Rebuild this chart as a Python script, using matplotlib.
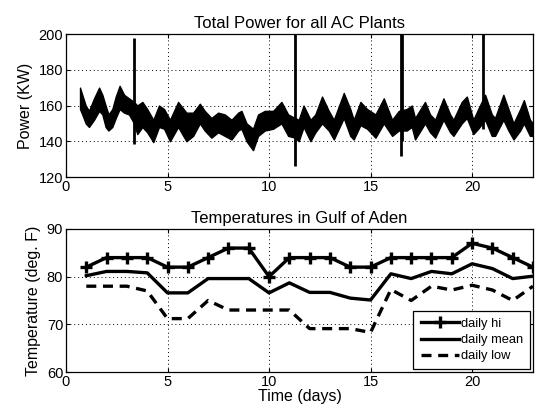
import matplotlib
matplotlib.use("Agg")
import matplotlib.pyplot as plt

plt.rcParams['font.family'] = ['Liberation Sans', 'DejaVu Sans']

# ---- Top panel: total power envelope ----
power_t = [0.69, 0.80, 0.97, 1.13, 1.38, 1.63, 1.79, 1.95, 2.09, 2.28, 2.45, 2.64, 2.86,
           3.10, 3.35, 3.51, 3.76, 4.00, 4.30, 4.58, 4.83, 5.12, 5.52, 5.93, 6.26, 6.59,
           6.83, 7.16, 7.49, 7.82, 8.15, 8.48, 8.64, 8.89, 9.21, 9.46, 9.79, 10.2, 10.61,
           10.94, 11.28, 11.46, 11.70, 12.04, 12.28, 12.61, 12.94, 13.19, 13.68, 14.00,
           14.17, 14.50, 14.83, 15.24, 15.65, 16.06, 16.39, 16.78, 17.03, 17.19, 17.68,
           17.93, 18.18, 18.59, 18.92, 19.08, 19.49, 19.74, 20.06, 20.30, 20.64, 20.97,
           21.13, 21.54, 21.79, 22.04, 22.37, 22.55, 22.85, 23.00]
power_hi = [170, 166, 160, 157, 164, 170, 166, 160, 155, 158, 165, 171, 166,
            164, 162, 160, 162, 158, 152, 160, 158, 152, 162, 156, 156, 161,
            157, 153, 156, 155, 152, 156, 157, 150, 147, 155, 157, 157, 162,
            155, 153, 152, 160, 152, 155, 165, 157, 152, 167, 158,
            152, 162, 158, 155, 164, 152, 157, 158, 160, 153, 162,
            155, 152, 164, 155, 152, 162, 165, 152, 158, 166, 155,
            153, 166, 158, 150, 158, 163, 152, 150]
power_lo = [158, 155, 150, 148, 152, 157, 155, 148, 146, 148, 153, 158, 156,
            155, 150, 144, 148, 145, 139.5, 148, 147, 140, 148, 140, 143, 150,
            146, 142, 145, 143, 141, 146, 147, 140, 135, 143, 146, 147, 150,
            143, 142, 140, 148, 140, 145, 150, 146, 141, 153, 143,
            141, 149, 147, 142, 150, 143, 146, 146, 148, 141, 150,
            145, 142, 152, 145, 143, 150, 153, 144, 147, 152, 143,
            143, 152, 146, 141, 146, 150, 143, 143]

# isolated spikes in the power record
spike_t = [3.35, 11.28, 16.50, 16.56, 20.56]
spike_top = [197.5, 210, 210, 210, 210]
spike_bottom = [138.5, 126, 132, 140, 147]

# ---- Bottom panel: daily temperatures ----
days = list(range(1, 24))
daily_hi = [82, 84, 84, 84, 82, 82, 84, 86, 86, 80, 84, 84, 84, 82, 82, 84, 84, 84, 84, 87, 86, 84, 82]
daily_mean = [80.2, 81.1, 81.1, 80.8, 76.6, 76.6, 79.6, 79.6, 79.6, 76.6, 78.7, 76.7, 76.7,
              75.5, 75.1, 80.6, 79.6, 81.1, 80.6, 82.7, 81.7, 79.6, 80.1]
daily_low = [78, 78, 78, 77, 71.2, 71.2, 75, 73, 73, 73, 73, 69.1, 69.1, 69.1, 68.3,
             77.3, 75, 78, 77.2, 78.2, 77.2, 75, 78]

W, H = 543, 409
fig = plt.figure(figsize=(W / 100, H / 100), dpi=100)

left = 66 / W
width = (533 - 66) / W
ax1 = fig.add_axes([left, 1 - 177 / H, width, 143 / H])
ax2 = fig.add_axes([left, 1 - 372 / H, width, 143 / H])

tick_fs = 10.5
lab_fs = 11.5
title_fs = 12

# top panel
ax1.fill_between(power_t, power_lo, power_hi, color='black', linewidth=1.0)
ax1.vlines(spike_t, spike_bottom, spike_top, colors='black', linewidth=2.0)
ax1.set_xlim(0, 23)
ax1.set_ylim(120, 200)
ax1.set_yticks([120, 140, 160, 180, 200])
ax1.set_xticks([0, 5, 10, 15, 20])
ax1.set_ylabel('Power (KW)', fontsize=lab_fs)
ax1.set_title('Total Power for all AC Plants', fontsize=title_fs, pad=4)

# bottom panel
ax2.plot(days, daily_hi, color='black', linewidth=2.4, marker='+', markersize=8,
         markeredgewidth=2.4, label='daily hi')
ax2.plot(days, daily_mean, color='black', linewidth=2.4, label='daily mean')
ax2.plot(days, daily_low, color='black', linewidth=2.4, linestyle=(0, (3, 2)), label='daily low')
ax2.set_xlim(0, 23)
ax2.set_ylim(60, 90)
ax2.set_yticks([60, 70, 80, 90])
ax2.set_xticks([0, 5, 10, 15, 20])
ax2.set_ylabel('Temperature (deg. F)', fontsize=lab_fs)
ax2.set_xlabel('Time (days)', fontsize=lab_fs, labelpad=0)
ax2.set_title('Temperatures in Gulf of Aden', fontsize=title_fs, pad=4)
leg = ax2.legend(loc='lower right', fontsize=9.3, handlelength=3.0, labelspacing=0.32,
                 borderaxespad=0.2, borderpad=0.55, handletextpad=0.15, fancybox=False,
                 framealpha=1, edgecolor='black')
leg.get_frame().set_linewidth(0.9)

for ax in (ax1, ax2):
    ax.grid(True, linestyle=(0, (1, 3)), color='black', linewidth=0.7)
    ax.tick_params(direction='in', length=3, labelsize=tick_fs, pad=2, top=True, right=True)
    for s in ax.spines.values():
        s.set_linewidth(0.9)

fig.savefig('out.png', dpi=100)
